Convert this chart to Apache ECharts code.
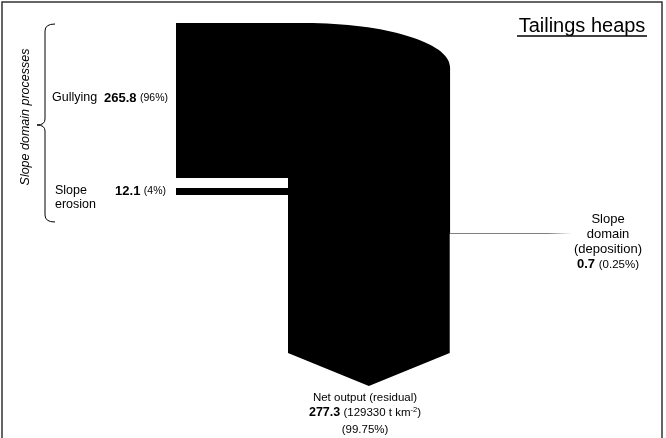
<!DOCTYPE html>
<html>
<head>
<meta charset="utf-8">
<script src="https://cdn.jsdelivr.net/npm/echarts@6/dist/echarts.min.js"></script>
<style>
  html, body { margin: 0; padding: 0; background: #fff; }
  #chart { width: 666px; height: 438px; }
</style>
</head>
<body>
<div id="chart"></div>
<script>
// Sediment budget (t) for the tailings heaps slope domain
const flowNames = ['Gullying', 'Slope\nerosion', 'Slope\ndomain\n(deposition)', 'Net output (residual)'];
const flowValues = [265.8, 12.1, 0.7, 277.3];
const flowShares = ['96%', '4%', '0.25%', '99.75%'];
const netYield = '129330';
const siteTitle = 'Tailings heaps';
const groupTitle = 'Slope domain processes';

const FONT = '"Liberation Sans", Arial, Helvetica, sans-serif';
const rich = {
  n: { fontSize: 12.5, fontFamily: FONT, color: '#000' },
  m: { fontSize: 13, fontFamily: FONT, color: '#000' },
  s: { fontSize: 11.5, fontFamily: FONT, color: '#000' },
  b: { fontSize: 13, fontWeight: 'bold', fontFamily: FONT, color: '#000' },
  bs: { fontSize: 12.5, fontWeight: 'bold', fontFamily: FONT, color: '#000' },
  p: { fontSize: 10.5, fontFamily: FONT, color: '#000' },
  ps: { fontSize: 11.5, fontFamily: FONT, color: '#000' },
  sup: { fontSize: 7.5, fontFamily: FONT, color: '#000', padding: [0, 0, 6, 0] }
};

function valueText(i, bKey, pKey) {
  return '{' + (bKey || 'b') + '|' + flowValues[i] + '} {' + (pKey || 'p') + '|(' + flowShares[i] + ')}';
}

function textEl(x, y, text, align, vAlign, lineHeight, size) {
  return {
    type: 'text', x: x, y: y, silent: true,
    style: {
      text: text, rich: rich, fill: '#000',
      fontSize: size || 12.5, fontFamily: FONT,
      lineHeight: lineHeight || 15,
      align: align, textAlign: align,
      verticalAlign: vAlign, textVerticalAlign: vAlign
    }
  };
}

function renderFlows(params, api) {
  const gully = api.value(0), erosion = api.value(1), depo = api.value(2), net = api.value(3);
  // band thicknesses from the mass scale of the axes
  const wG = api.size([0, gully])[1];
  const wE = api.size([0, erosion])[1];
  const wD = api.size([0, depo])[1];
  const wIn = api.size([gully + erosion, 0])[0];
  const wN = api.size([net, 0])[0];

  const L = 176, T = 23, gap = 10, xL = 288;
  const chevY = 353, tip = 33, depY = 233, depEnd = 572;
  const rx = 145, ry = 44, k = 0.5523;
  const xR = xL + wIn;
  const eTop = T + wG + gap, eBot = eTop + wE;

  const d = [
    'M', L, T, 'L', xR - rx, T,
    'C', xR - rx + rx * k, T, xR, T + ry - ry * k, xR, T + ry,
    'L', xR, depY + wD, 'L', xL + wN, depY + wD,
    'L', xL + wN, chevY, 'L', xL + wN / 2, chevY + tip, 'L', xL, chevY,
    'L', xL, eBot, 'L', L, eBot, 'L', L, eTop, 'L', xL, eTop,
    'L', xL, T + wG, 'L', L, T + wG, 'Z'
  ].join(' ');

  // curly brace grouping the slope domain processes
  const brace = 'M 55 24 Q 45 24 45 31 L 45 119 Q 45 125 37 125 Q 45 125 45 131 L 45 215 Q 45 222 55 222';

  return {
    type: 'group',
    children: [
      { type: 'path', shape: { pathData: d }, style: { fill: '#000' } },
      {
        type: 'rect',
        shape: { x: xR, y: depY, width: depEnd - xR, height: wD },
        style: {
          fill: new echarts.graphic.LinearGradient(0, 0, 1, 0, [
            { offset: 0, color: '#000' },
            { offset: 0.8, color: '#000' },
            { offset: 1, color: 'rgba(0,0,0,0)' }
          ])
        }
      },
      { type: 'path', shape: { pathData: brace }, style: { fill: null, stroke: '#000', lineWidth: 1 } },
      // gullying
      textEl(52, 98, '{n|' + flowNames[0] + '}', 'left', 'middle'),
      textEl(168, 98, valueText(0), 'right', 'middle'),
      // slope erosion
      textEl(55, 184, flowNames[1], 'left', 'top', 14),
      textEl(166, 191, valueText(1), 'right', 'middle'),
      // deposition
      textEl(608, 212, '{m|' + flowNames[2].split('\n').join('}\n{m|') + '}\n' + valueText(2, 'b', 'ps'),
        'center', 'top', 15, 13),
      // net output
      textEl(365, 390, '{s|' + flowNames[3] + '}\n{bs|' + flowValues[3] + '} {s|(' + netYield + ' t km}{sup|-2}{s|)}',
        'center', 'top', 15, 11.5),
      textEl(365, 430, '{s|(' + flowShares[3] + ')}', 'center', 'middle', 15, 11.5)
    ]
  };
}

const chart = echarts.init(document.getElementById('chart'), null, { renderer: 'canvas' });
chart.setOption({
  animation: false,
  backgroundColor: '#fff',
  grid: { left: 0, right: 0, top: 0, bottom: 0 },
  xAxis: { type: 'value', min: 0, max: 1142, show: false },
  yAxis: { type: 'value', min: 0, max: 751, inverse: true, show: false },
  series: [{
    type: 'custom',
    renderItem: renderFlows,
    data: [flowValues],
    clip: false,
    silent: true
  }],
  graphic: [
    {
      type: 'rect', silent: true,
      shape: { x: 2, y: 2, width: 660, height: 442 },
      style: { fill: 'none', stroke: '#333', lineWidth: 1.5 }
    },
    {
      type: 'text', x: 582, y: 26.5, silent: true,
      style: {
        text: siteTitle, fill: '#000', fontSize: 20, fontFamily: FONT,
        align: 'center', verticalAlign: 'middle'
      }
    },
    {
      type: 'line', silent: true,
      shape: { x1: 517, y1: 36, x2: 647, y2: 36 },
      style: { stroke: '#000', lineWidth: 1.5 }
    },
    {
      type: 'text', x: 26, y: 117, rotation: Math.PI / 2, silent: true,
      style: {
        text: groupTitle, fill: '#000', fontSize: 12.5, fontStyle: 'italic', fontFamily: FONT,
        align: 'center', verticalAlign: 'middle'
      }
    }
  ]
});
</script>
</body>
</html>
